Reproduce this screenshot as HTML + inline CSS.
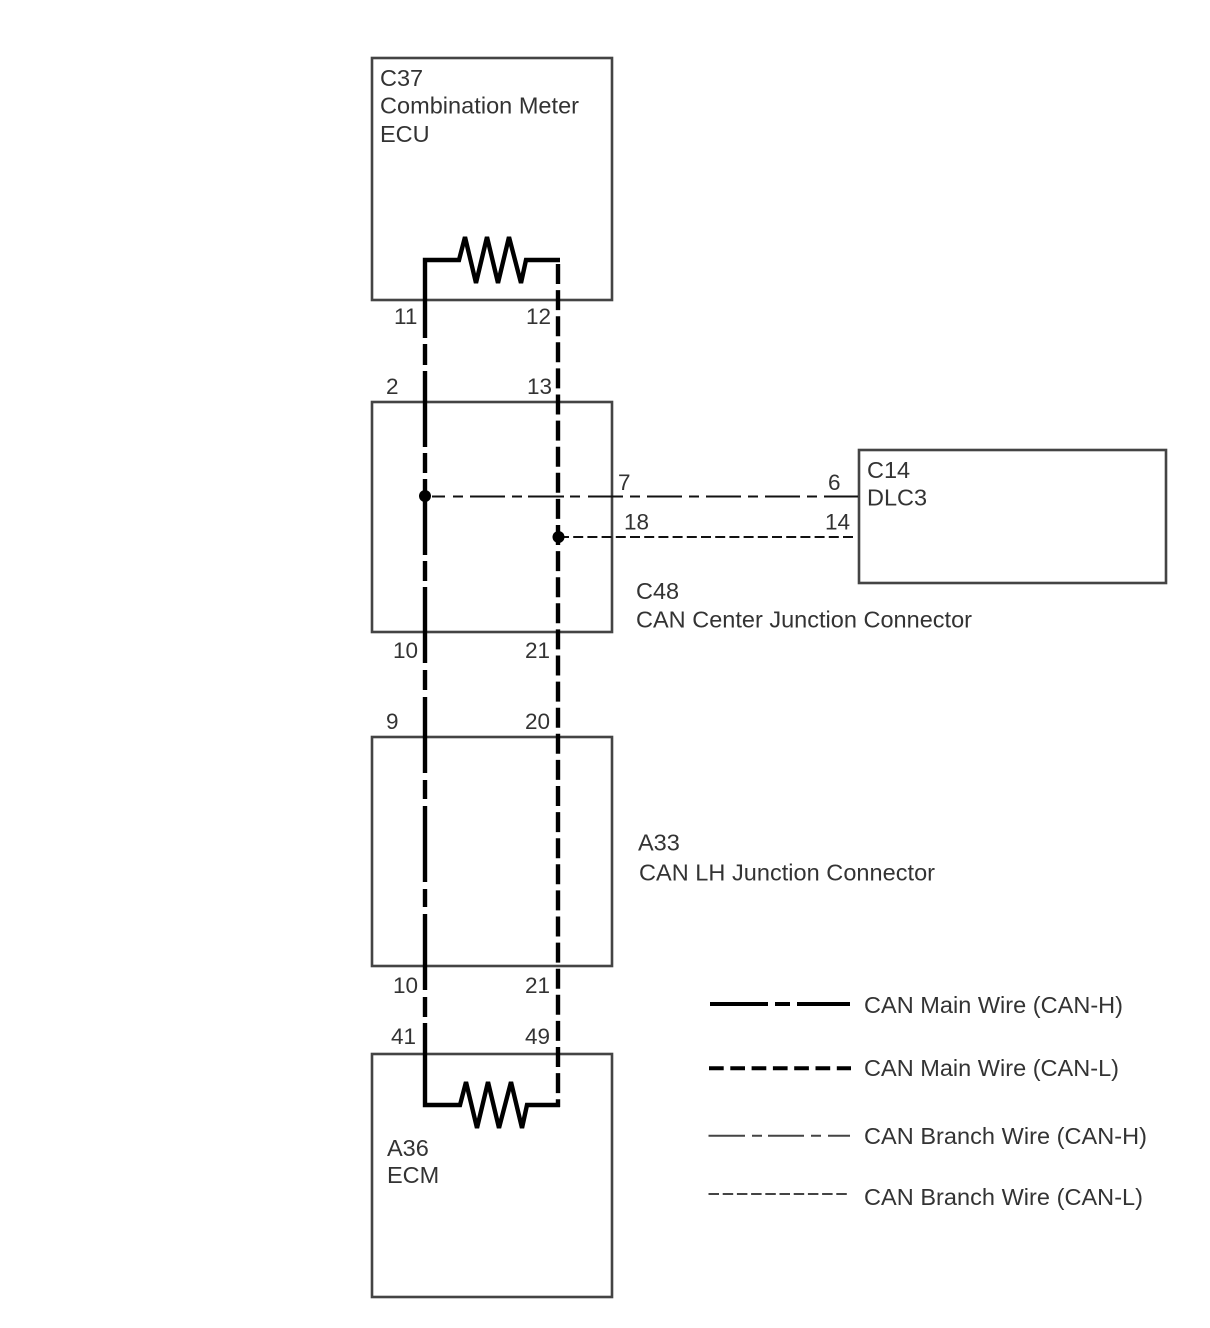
<!DOCTYPE html>
<html><head><meta charset="utf-8"><style>
html,body{margin:0;padding:0;background:#fff}
svg{display:block}
text{font-family:"Liberation Sans",Arial,sans-serif;font-size:23.5px;fill:#333;filter:blur(.35px)}
text.n{font-size:22.5px}
</style></head><body>
<svg width="1210" height="1328" viewBox="0 0 1210 1328" xmlns="http://www.w3.org/2000/svg">
<rect width="1210" height="1328" fill="#fff"/>
<g fill="none" stroke="#444" stroke-width="2.6">
<rect x="372" y="58" width="240" height="242"/>
<rect x="372" y="402" width="240" height="230"/>
<rect x="372" y="737" width="240" height="229"/>
<rect x="372" y="1054" width="240" height="243"/>
<rect x="859" y="450" width="307" height="133"/>
</g>
<g fill="none" stroke="#000" stroke-width="4.4">
<path d="M425 338V260H459L465 237 476 283 487 237 498 283 509 237 521 283 526 260H560"/>
<path d="M425 1023V1105H460L466 1082 477 1128 488 1082 499 1128 511 1082 522 1128 527 1105H560"/>
<path d="M425 344V365M425 371V447M425 453V473M425 479V555M425 561V581M425 587V663M425 670V690M425 697V773M425 780V799M425 806V882M425 889V907M425 914V990M425 997V1017"/>
<path d="M558 264V1107" stroke-dasharray="20 6.1"/>
</g>
<g fill="none" stroke="#111" stroke-width="2">
<path d="M432 496.500H445M453 496.500H463M470 496.500H505M512 496.500H522M528 496.500H564M570 496.500H580M588 496.500H623M630 496.500H640M647 496.500H682M689 496.500H699M706 496.500H741M748 496.500H758M765 496.500H800M807 496.500H817M824 496.500H858"/>
<path d="M559 537H854" stroke-dasharray="10 4.200"/>
</g>
<circle cx="425" cy="496" r="6" fill="#000"/>
<circle cx="558.500" cy="537" r="6" fill="#000"/>
<g fill="none" stroke="#000" stroke-width="4">
<path d="M710 1004H768M775 1004H790M797 1004H850"/>
<path d="M709 1068.300H851" stroke-dasharray="14.700 6.600"/>
</g>
<g fill="none" stroke="#444" stroke-width="2">
<path d="M708.500 1135.700H745M752 1135.700H762M768 1135.700H804M811 1135.700H821M828 1135.700H850"/>
<path d="M708.500 1194H847" stroke-dasharray="10.500 3.700"/>
</g>
<text x="380" y="86">C37</text>
<text x="380" y="113.500" textLength="199">Combination Meter</text>
<text x="380" y="142">ECU</text>
<text class="n" x="394" y="324">11</text>
<text class="n" x="526" y="324">12</text>
<text class="n" x="386" y="394">2</text>
<text class="n" x="527" y="394">13</text>
<text class="n" x="618" y="490">7</text>
<text class="n" x="828" y="490">6</text>
<text class="n" x="624" y="529.500">18</text>
<text class="n" x="825" y="529.500">14</text>
<text x="867" y="478">C14</text>
<text x="867" y="505.500">DLC3</text>
<text x="636" y="599">C48</text>
<text x="636" y="627.500" textLength="336">CAN Center Junction Connector</text>
<text class="n" x="393" y="658">10</text>
<text class="n" x="525" y="658">21</text>
<text class="n" x="386" y="729">9</text>
<text class="n" x="525" y="729">20</text>
<text x="638" y="850.500">A33</text>
<text x="639" y="880.500" textLength="296">CAN LH Junction Connector</text>
<text class="n" x="393" y="993">10</text>
<text class="n" x="525" y="993">21</text>
<text class="n" x="391" y="1044">41</text>
<text class="n" x="525" y="1044">49</text>
<text x="387" y="1156">A36</text>
<text x="387" y="1183">ECM</text>
<text x="864" y="1013" textLength="259">CAN Main Wire (CAN-H)</text>
<text x="864" y="1076" textLength="255">CAN Main Wire (CAN-L)</text>
<text x="864" y="1144" textLength="283">CAN Branch Wire (CAN-H)</text>
<text x="864" y="1205" textLength="279">CAN Branch Wire (CAN-L)</text>
</svg>
</body></html>
